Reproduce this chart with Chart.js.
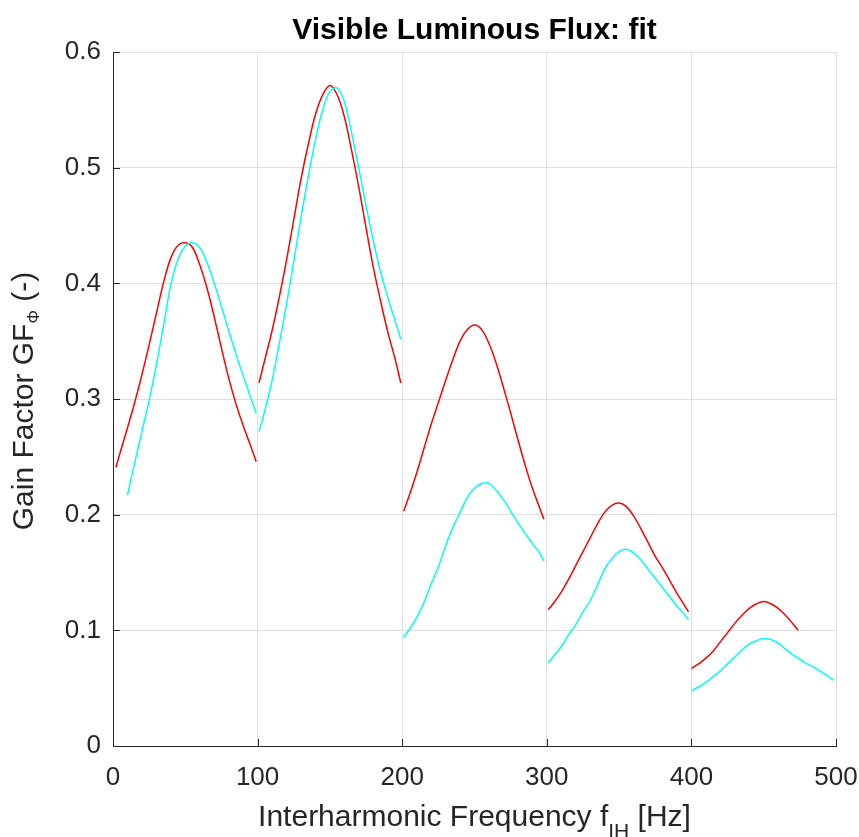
<!DOCTYPE html>
<html>
<head>
<meta charset="utf-8">
<title>Visible Luminous Flux: fit</title>
<script src="https://cdn.jsdelivr.net/npm/chart.js@4.4.1/dist/chart.umd.min.js"></script>
<style>
  html, body { margin: 0; padding: 0; background: #fff; }
  #wrap { width: 859px; height: 837px; }
</style>
</head>
<body>
<div id="wrap"><canvas id="chart" width="859" height="837"></canvas></div>
<script>
// --- data (frequency in Hz, gain factor) ---
const xTicks = [0, 100, 200, 300, 400, 500];
const yTicks = [0, 0.1, 0.2, 0.3, 0.4, 0.5, 0.6];

// red curves, one per 100 Hz band
const redF1 = [2, 5, 10, 15, 20, 25, 30, 35, 40, 45, 50, 55, 60, 65, 70, 75, 80, 85, 90, 95, 99];
const redV1 = [0.241, 0.254, 0.275, 0.297, 0.321, 0.347, 0.374, 0.401, 0.422, 0.433, 0.435, 0.431, 0.416, 0.396, 0.371, 0.344, 0.318, 0.296, 0.277, 0.260, 0.246];
const redF2 = [101, 105, 110, 115, 120, 125, 130, 135, 140, 145, 150, 155, 160, 165, 170, 175, 180, 185, 190, 195, 199];
const redV2 = [0.314, 0.334, 0.359, 0.388, 0.420, 0.455, 0.490, 0.520, 0.546, 0.563, 0.571, 0.563, 0.544, 0.515, 0.483, 0.448, 0.414, 0.385, 0.358, 0.335, 0.314];
const redF3 = [201, 205, 210, 215, 220, 225, 230, 235, 240, 245, 250, 255, 260, 265, 270, 275, 280, 285, 290, 295, 298];
const redV3 = [0.203, 0.217, 0.236, 0.257, 0.278, 0.297, 0.316, 0.334, 0.350, 0.360, 0.364, 0.360, 0.348, 0.331, 0.310, 0.288, 0.265, 0.243, 0.223, 0.206, 0.196];
const redF4 = [301, 305, 310, 315, 320, 325, 330, 335, 340, 345, 350, 355, 360, 365, 370, 375, 380, 385, 390, 395, 398];
const redV4 = [0.118, 0.124, 0.133, 0.144, 0.156, 0.168, 0.180, 0.192, 0.202, 0.208, 0.210, 0.207, 0.199, 0.188, 0.176, 0.164, 0.154, 0.143, 0.132, 0.122, 0.116];
const redF5 = [400, 405, 410, 415, 420, 425, 430, 435, 440, 445, 450, 455, 460, 465, 470, 474];
const redV5 = [0.067, 0.071, 0.076, 0.082, 0.090, 0.098, 0.106, 0.113, 0.119, 0.123, 0.125, 0.123, 0.119, 0.113, 0.106, 0.100];

// cyan curves
const cyanF1 = [10, 15, 20, 25, 30, 35, 40, 45, 50, 55, 60, 65, 70, 75, 80, 85, 90, 95, 99];
const cyanV1 = [0.217, 0.245, 0.272, 0.299, 0.330, 0.364, 0.399, 0.421, 0.432, 0.435, 0.431, 0.418, 0.400, 0.380, 0.359, 0.339, 0.320, 0.302, 0.288];
const cyanF2 = [101, 105, 110, 115, 120, 125, 130, 135, 140, 145, 150, 155, 160, 165, 170, 175, 180, 185, 190, 195, 199];
const cyanV2 = [0.272, 0.290, 0.316, 0.348, 0.382, 0.419, 0.457, 0.492, 0.524, 0.550, 0.566, 0.569, 0.557, 0.530, 0.499, 0.467, 0.437, 0.410, 0.388, 0.368, 0.352];
const cyanF3 = [201, 205, 210, 215, 220, 225, 230, 235, 240, 245, 250, 255, 260, 265, 270, 275, 280, 285, 290, 295, 298];
const cyanV3 = [0.094, 0.101, 0.111, 0.124, 0.140, 0.155, 0.173, 0.189, 0.202, 0.215, 0.223, 0.227, 0.227, 0.221, 0.213, 0.203, 0.193, 0.184, 0.175, 0.167, 0.160];
const cyanF4 = [301, 305, 310, 315, 320, 325, 330, 335, 340, 345, 350, 355, 360, 365, 370, 375, 380, 385, 390, 395, 398];
const cyanV4 = [0.072, 0.078, 0.086, 0.096, 0.105, 0.116, 0.126, 0.139, 0.153, 0.162, 0.168, 0.170, 0.167, 0.161, 0.153, 0.145, 0.137, 0.129, 0.121, 0.114, 0.109];
const cyanF5 = [400, 405, 410, 415, 420, 425, 430, 435, 440, 445, 450, 455, 460, 465, 470, 475, 480, 485, 490, 495, 498];
const cyanV5 = [0.048, 0.051, 0.055, 0.060, 0.065, 0.071, 0.077, 0.083, 0.088, 0.091, 0.093, 0.092, 0.089, 0.084, 0.079, 0.075, 0.071, 0.068, 0.064, 0.060, 0.057];

const FONT = '"Liberation Sans", Arial, Helvetica, sans-serif';
const AXIS = '#262626';

function seg(f, v, color) {
    return {
        data: f.map((x, i) => ({ x: x, y: v[i] })),
        borderColor: color,
        borderWidth: 1.5,
        pointRadius: 0,
        fill: false,
        tension: 0.35
    };
}

const datasets = [
    seg(cyanF1, cyanV1, '#00ffff'), seg(cyanF2, cyanV2, '#00ffff'), seg(cyanF3, cyanV3, '#00ffff'),
    seg(cyanF4, cyanV4, '#00ffff'), seg(cyanF5, cyanV5, '#00ffff'),
    seg(redF1, redV1, '#ff0000'), seg(redF2, redV2, '#ff0000'), seg(redF3, redV3, '#ff0000'),
    seg(redF4, redV4, '#ff0000'), seg(redF5, redV5, '#ff0000')
];

// text made of normal and subscript parts, centred on cx, baseline at by
function drawParts(ctx, parts, cx, by, size, subSize, subDrop) {
    let total = 0;
    parts.forEach(p => {
        ctx.font = (p.sub ? subSize : size) + 'px ' + FONT;
        p.w = ctx.measureText(p.t).width;
        total += p.w;
    });
    let x = cx - total / 2;
    ctx.textBaseline = 'alphabetic';
    ctx.textAlign = 'left';
    parts.forEach(p => {
        ctx.font = (p.sub ? subSize : size) + 'px ' + FONT;
        ctx.fillText(p.t, x, p.sub ? by + subDrop : by);
        x += p.w;
    });
}

// MATLAB-like decorations: inward ticks, title, axis labels with subscripts
const decor = {
    id: 'decor',
    afterDraw(chart) {
        const { ctx, chartArea: a, scales } = chart;
        ctx.save();
        ctx.strokeStyle = AXIS;
        ctx.lineWidth = 1;
        ctx.beginPath();
        xTicks.forEach(t => {
            const px = Math.round(scales.x.getPixelForValue(t)) + 0.5;
            ctx.moveTo(px, a.bottom);
            ctx.lineTo(px, a.bottom - 7);
        });
        yTicks.forEach(t => {
            const py = Math.round(scales.y.getPixelForValue(t)) + 0.5;
            ctx.moveTo(a.left, py);
            ctx.lineTo(a.left + 7, py);
        });
        ctx.stroke();

        ctx.fillStyle = '#000';
        ctx.font = 'bold 30px ' + FONT;
        ctx.textAlign = 'center';
        ctx.textBaseline = 'alphabetic';
        ctx.fillText('Visible Luminous Flux: fit', (a.left + a.right) / 2, 39);

        ctx.fillStyle = AXIS;
        drawParts(ctx, [{ t: 'Interharmonic Frequency f' }, { t: 'IH', sub: true }, { t: ' [Hz]' }],
            (a.left + a.right) / 2, 826, 30, 21, 12);

        ctx.translate(33, 401);
        ctx.rotate(-Math.PI / 2);
        drawParts(ctx, [{ t: 'Gain Factor GF' }, { t: '\u03A6', sub: true }, { t: ' (-)' }], 0, 0, 30, 17, 6);
        ctx.restore();
    }
};

new Chart(document.getElementById('chart'), {
    type: 'line',
    data: { datasets: datasets },
    options: {
        responsive: false,
        animation: false,
        layout: { padding: { top: 52, right: 23, left: 0, bottom: 0 } },
        plugins: { legend: { display: false }, tooltip: { enabled: false }, title: { display: false } },
        scales: {
            x: {
                type: 'linear', min: 0, max: 500,
                afterBuildTicks: s => { s.ticks = xTicks.map(v => ({ value: v })); },
                afterFit: s => { s.height = 91; s.paddingLeft = 0; s.paddingRight = 0; },
                grid: { color: '#dfdfdf', drawTicks: false },
                border: { display: true, color: AXIS, width: 1 },
                ticks: { color: AXIS, padding: 16, maxRotation: 0, font: { family: FONT, size: 26 } }
            },
            y: {
                type: 'linear', min: 0, max: 0.6,
                afterBuildTicks: s => { s.ticks = yTicks.map(v => ({ value: v })); },
                afterFit: s => { s.width = 113; s.paddingTop = 0; s.paddingBottom = 0; },
                grid: { color: '#dfdfdf', drawTicks: false },
                border: { display: true, color: AXIS, width: 1 },
                ticks: {
                    color: AXIS, padding: 12, font: { family: FONT, size: 26 },
                    callback: v => String(+v.toFixed(1))
                }
            }
        }
    },
    plugins: [decor]
});
</script>
</body>
</html>
